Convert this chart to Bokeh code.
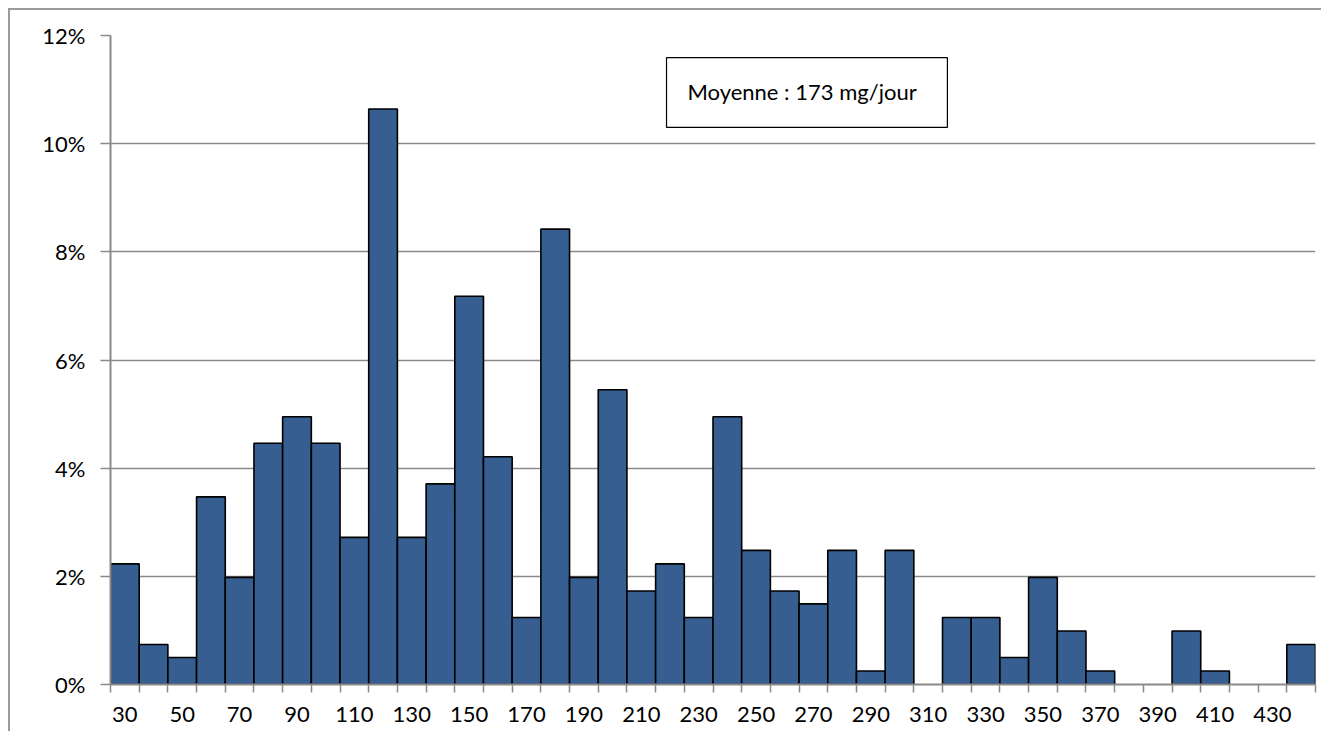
from bokeh.plotting import figure
from bokeh.models import (ColumnDataSource, FixedTicker, Range1d, BoxAnnotation,
                          Label, CustomJSTickFormatter, CDSView, BooleanFilter)
from bokeh.embed import file_html
from bokeh.resources import INLINE

# ---- data ----
bins = [30, 40, 50, 60, 70, 80, 90, 100, 110, 120,
        130, 140, 150, 160, 170, 180, 190, 200, 210, 220,
        230, 240, 250, 260, 270, 280, 290, 300, 310, 320,
        330, 340, 350, 360, 370, 380, 390, 400, 410, 420,
        430, 440]
pct = [2.23, 0.74, 0.50, 3.47, 1.98, 4.46, 4.95, 4.46, 2.72, 10.64,
       2.72, 3.71, 7.18, 4.21, 1.24, 8.42, 1.98, 5.45, 1.73, 2.23,
       1.24, 4.95, 2.48, 1.73, 1.49, 2.48, 0.25, 2.48, 0.0, 1.24,
       1.24, 0.50, 1.98, 0.99, 0.25, 0.0, 0.0, 0.99, 0.25, 0.0,
       0.0, 0.74]
x_tick_labels = [30, 50, 70, 90, 110, 130, 150, 170, 190, 210,
                 230, 250, 270, 290, 310, 330, 350, 370, 390, 410, 430]
y_ticks = [0, 2, 4, 6, 8, 10, 12]
note = "Moyenne : 173 mg/jour"

BIN_W = 10
FONT = "Lato"
GRID = "#8a8a8a"
FRAME = "#9a9a9a"

src = ColumnDataSource(dict(x=bins, top=pct))
view = CDSView(filter=BooleanFilter([v > 0 for v in pct]))

p = figure(width=1321, height=731, output_backend="svg", toolbar_location=None,
           x_range=Range1d(bins[0] - BIN_W / 2, bins[-1] + BIN_W / 2),
           y_range=Range1d(0, 12),
           min_border_left=110, min_border_right=6,
           min_border_top=35, min_border_bottom=47)
# chart-area border (left and top edges, as in the reference)
p.styles = {
    "background-color": "white",
    "background-image": f"linear-gradient({FRAME}, {FRAME}), linear-gradient({FRAME}, {FRAME})",
    "background-size": "2px 100%, 100% 2px",
    "background-position": "8px 8px, 8px 8px",
    "background-repeat": "no-repeat",
}
p.outline_line_color = None
p.background_fill_color = "white"
p.border_fill_color = None

p.vbar(x="x", top="top", width=BIN_W, source=src, view=view,
       fill_color="#365E91", line_color="black", line_width=1.6)

# y axis
p.yaxis.ticker = FixedTicker(ticks=y_ticks)
p.yaxis.formatter = CustomJSTickFormatter(code="return tick.toFixed(0) + '%';")
p.yaxis.axis_line_color = GRID
p.yaxis.axis_line_width = 2
p.yaxis.major_tick_line_color = GRID
p.yaxis.major_tick_line_width = 1.5
p.yaxis.major_tick_out = 10
p.yaxis.major_tick_in = 0
p.yaxis.minor_tick_line_color = None
p.yaxis.major_label_text_font = FONT
p.yaxis.major_label_text_font_size = "22px"
p.yaxis.major_label_text_color = "black"
p.yaxis.major_label_standoff = 15

# x axis: labels every other bin, tick marks on bin boundaries
bounds = [b - BIN_W / 2 for b in bins] + [bins[-1] + BIN_W / 2]
p.xaxis.ticker = FixedTicker(ticks=x_tick_labels, minor_ticks=bounds)
p.xaxis.axis_line_color = GRID
p.xaxis.axis_line_width = 2
p.xaxis.major_tick_line_color = None
p.xaxis.major_tick_out = 0
p.xaxis.major_tick_in = 0
p.xaxis.minor_tick_line_color = GRID
p.xaxis.minor_tick_line_width = 1.5
p.xaxis.minor_tick_out = 8
p.xaxis.minor_tick_in = 0
p.xaxis.major_label_text_font = FONT
p.xaxis.major_label_text_font_size = "22px"
p.xaxis.major_label_text_color = "black"
p.xaxis.major_label_standoff = 14

p.xgrid.grid_line_color = None
p.ygrid.ticker = FixedTicker(ticks=y_ticks)
p.ygrid.grid_line_color = GRID
p.ygrid.grid_line_width = 1.5

# annotation box with mean
p.add_layout(BoxAnnotation(left=218.8, right=316.7, bottom=10.30, top=11.59,
                           fill_color="white", fill_alpha=1.0,
                           line_color="black", line_alpha=1.0, line_width=1.2,
                           level="overlay"))
p.add_layout(Label(x=226.1, y=10.965, text=note, text_font=FONT,
                   text_font_size="22px", text_color="black",
                   text_baseline="alphabetic", level="overlay"))

open("out.html", "w").write(file_html(p, INLINE))
